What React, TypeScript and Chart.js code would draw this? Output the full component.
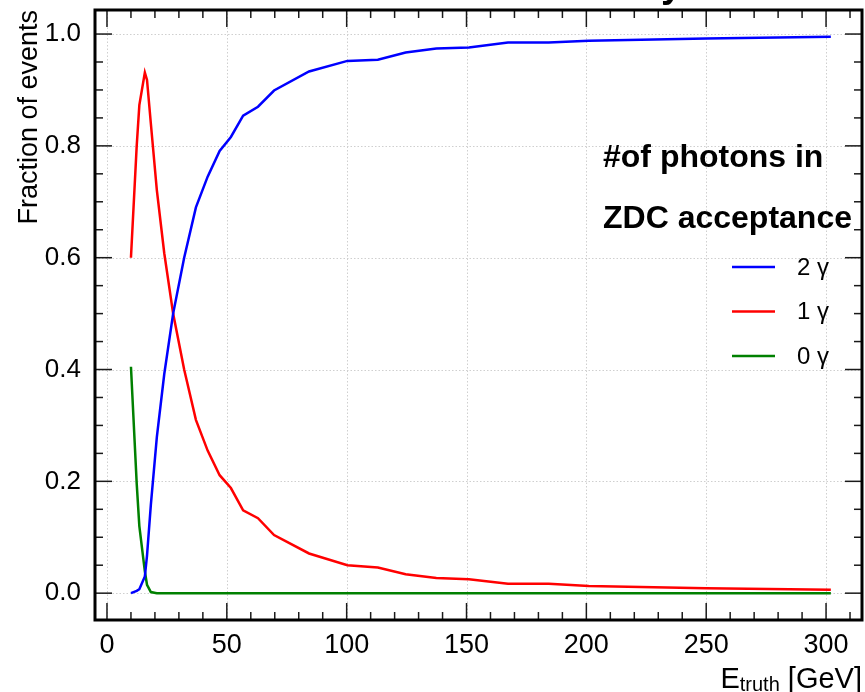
import { useEffect, useRef } from 'react';
import { Chart, registerables } from 'chart.js';

Chart.register(...registerables);

// ---- data ----
const energies = [10, 12.4, 13.5, 15.8, 16.7, 18.3, 20.8, 23.9, 27.6, 32.2, 37.1, 42, 47, 51.7, 56.8, 63, 69.7, 84.3, 100.3, 113, 124.6, 137.4, 151, 167.3, 184.3, 201, 250, 302];
const twoPhoton = [0, 0.004, 0.007, 0.03, 0.067, 0.158, 0.279, 0.392, 0.5, 0.6, 0.69, 0.745, 0.791, 0.816, 0.854, 0.87, 0.899, 0.933, 0.952, 0.954, 0.967, 0.974, 0.976, 0.985, 0.985, 0.988, 0.992, 0.995];
const onePhoton = [0.6, 0.8, 0.873, 0.931, 0.918, 0.84, 0.721, 0.608, 0.5, 0.4, 0.31, 0.255, 0.211, 0.188, 0.148, 0.134, 0.104, 0.071, 0.05, 0.046, 0.034, 0.027, 0.025, 0.017, 0.017, 0.013, 0.009, 0.006];
const zeroPhoton = [0.405, 0.196, 0.12, 0.039, 0.015, 0.002, 0, 0, 0, 0, 0, 0, 0, 0, 0, 0, 0, 0, 0, 0, 0, 0, 0, 0, 0, 0, 0, 0];

const seriesLabels = ['2 γ', '1 γ', '0 γ'];
const seriesColors = ['#0000ff', '#ff0000', '#008000'];
const legendTitle = ['#of photons in', 'ZDC acceptance'];

const xTickValues = [0, 50, 100, 150, 200, 250, 300];
const yTickValues = [0, 0.2, 0.4, 0.6, 0.8, 1.0];
const xMinorValues = Array.from({ length: 32 }, (_, i) => i * 10);
const yMinorValues = Array.from({ length: 21 }, (_, i) => i * 0.05);

const X_MIN = -5;
const X_MAX = 315;
const Y_MIN = -0.048;
const Y_MAX = 1.043;

const SANS = '"Liberation Sans", Arial, Helvetica, sans-serif';

const decorPlugin = {
  id: 'decor',
  beforeDatasetsDraw(chart: any) {
    const { ctx, chartArea, scales } = chart;
    const { left, right, top, bottom } = chartArea;
    ctx.save();
    ctx.strokeStyle = '#cfcfcf';
    ctx.lineWidth = 1;
    ctx.setLineDash([1.5, 2]);
    xTickValues.forEach((v) => {
      const px = Math.round(scales.x.getPixelForValue(v)) + 0.5;
      ctx.beginPath();
      ctx.moveTo(px, top);
      ctx.lineTo(px, bottom);
      ctx.stroke();
    });
    yTickValues.forEach((v) => {
      const py = Math.round(scales.y.getPixelForValue(v)) + 0.5;
      ctx.beginPath();
      ctx.moveTo(left, py);
      ctx.lineTo(right, py);
      ctx.stroke();
    });
    ctx.restore();
  },
  afterDraw(chart: any) {
    const { ctx, chartArea, scales } = chart;
    const { left, right, top, bottom } = chartArea;
    ctx.save();
    ctx.strokeStyle = '#1a1a1a';
    ctx.lineWidth = 1.5;
    const seg = (x1: number, y1: number, x2: number, y2: number) => {
      ctx.beginPath();
      ctx.moveTo(x1, y1);
      ctx.lineTo(x2, y2);
      ctx.stroke();
    };
    xMinorValues.forEach((v) => {
      const px = scales.x.getPixelForValue(v);
      if (px < left || px > right) return;
      const len = v % 50 === 0 ? 17 : 8;
      seg(px, bottom, px, bottom - len);
      seg(px, top, px, top + len);
    });
    yMinorValues.forEach((v, i) => {
      const py = scales.y.getPixelForValue(v);
      if (py < top || py > bottom) return;
      const len = i % 4 === 0 ? 17 : 8;
      seg(left, py, left + len, py);
      seg(right, py, right - len, py);
    });
    ctx.lineWidth = 3;
    ctx.strokeStyle = '#000';
    ctx.strokeRect(left, top, right - left, bottom - top);

    // legend
    ctx.fillStyle = '#000';
    ctx.textBaseline = 'alphabetic';
    ctx.textAlign = 'left';
    ctx.font = `bold 32px ${SANS}`;
    ctx.fillText(legendTitle[0], 603, 167);
    ctx.fillText(legendTitle[1], 603, 228);
    ctx.font = `24px ${SANS}`;
    seriesLabels.forEach((lab, i) => {
      const y = 267 + i * 44.5;
      ctx.strokeStyle = seriesColors[i];
      ctx.lineWidth = 2.5;
      seg(732, y, 775, y);
      ctx.fillStyle = '#000';
      ctx.textBaseline = 'middle';
      ctx.fillText(lab, 797, y + 1);
    });

    // y-axis title
    ctx.save();
    ctx.translate(30, top);
    ctx.rotate(-Math.PI / 2);
    ctx.font = `27px ${SANS}`;
    ctx.textAlign = 'right';
    ctx.textBaseline = 'middle';
    ctx.fillStyle = '#000';
    ctx.fillText('Fraction of events', 0, 0);
    ctx.restore();

    // x-axis title: E_truth [GeV]
    ctx.textBaseline = 'alphabetic';
    ctx.textAlign = 'left';
    ctx.fillStyle = '#000';
    ctx.font = `29px ${SANS}`;
    const wE = ctx.measureText('E').width;
    const wRest = ctx.measureText(' [GeV]').width;
    ctx.font = `20px ${SANS}`;
    const wSub = ctx.measureText('truth').width;
    const x0 = right - (wE + wSub + wRest);
    ctx.font = `29px ${SANS}`;
    ctx.fillText('E', x0, 688);
    ctx.font = `20px ${SANS}`;
    ctx.fillText('truth', x0 + wE, 691);
    ctx.font = `29px ${SANS}`;
    ctx.fillText(' [GeV]', x0 + wE + wSub, 688);

    // cut-off title descender at the top
    ctx.font = `bold 38px ${SANS}`;
    ctx.fillText('y', 661, -3);
    ctx.restore();
  },
};

export default function App() {
  const ref = useRef<HTMLCanvasElement | null>(null);
  useEffect(() => {
    document.body.style.margin = '0';
    const canvas = ref.current;
    if (!canvas) return;
    const mk = (vals: number[]) => energies.map((e, i) => ({ x: e, y: vals[i] }));
    const chart = new Chart(canvas, {
      type: 'line',
      data: {
        datasets: [
          { label: seriesLabels[0], data: mk(twoPhoton), borderColor: seriesColors[0], borderWidth: 2.5, pointRadius: 0, fill: false, tension: 0 },
          { label: seriesLabels[1], data: mk(onePhoton), borderColor: seriesColors[1], borderWidth: 2.5, pointRadius: 0, fill: false, tension: 0 },
          { label: seriesLabels[2], data: mk(zeroPhoton), borderColor: seriesColors[2], borderWidth: 2.5, pointRadius: 0, fill: false, tension: 0 },
        ],
      },
      options: {
        animation: false,
        responsive: false,
        maintainAspectRatio: false,
        layout: { padding: { top: 10, right: 3, left: 0, bottom: 0 } },
        plugins: { legend: { display: false }, tooltip: { enabled: false }, title: { display: false } },
        scales: {
          x: {
            type: 'linear',
            min: X_MIN,
            max: X_MAX,
            grid: { display: false },
            border: { display: false },
            afterBuildTicks: (s: any) => { s.ticks = xTickValues.map((v) => ({ value: v })); },
            afterFit: (s: any) => { s.height = 72; s.paddingLeft = 0; s.paddingRight = 0; },
            ticks: { color: '#000', padding: 1, font: { family: SANS, size: 27 }, maxRotation: 0, callback: (v: any) => String(v) },
          },
          y: {
            type: 'linear',
            min: Y_MIN,
            max: Y_MAX,
            grid: { display: false },
            border: { display: false },
            afterBuildTicks: (s: any) => { s.ticks = yTickValues.map((v) => ({ value: v })); },
            afterFit: (s: any) => { s.width = 95; s.paddingTop = 0; s.paddingBottom = 0; },
            ticks: { color: '#000', padding: 6, font: { family: SANS, size: 26 }, callback: (v: any) => Number(v).toFixed(1) },
          },
        },
      },
      plugins: [decorPlugin],
    });
    return () => chart.destroy();
  }, []);
  return (
    <div style={{ width: 865, height: 692 }}>
      <canvas ref={ref} width={865} height={692} style={{ display: 'block' }} />
    </div>
  );
}
